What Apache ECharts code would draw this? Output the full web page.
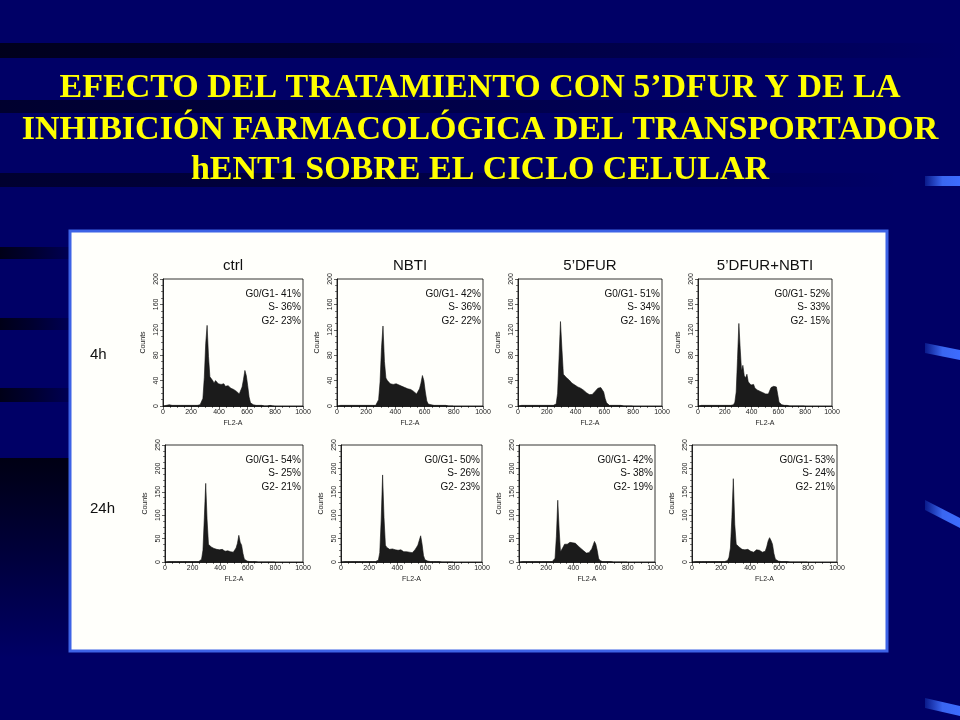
<!DOCTYPE html>
<html lang="es">

<head>
    <meta charset="UTF-8">
    <title>Ciclo celular</title>
</head>

<body style="height: 100%; margin: 0; background: #000066">
    <div id="main" style="width:960px;height: 720px"></div>
    <script type="text/javascript" src="https://cdn.jsdelivr.net/npm/echarts@6.0.0/dist/echarts.min.js"></script>
    <script type="text/javascript">

        // histogram counts, 10-channel bins starting at FL2-A = 0
        var ctrl4h = [0, 1, 1, 1, 2, 1, 1, 1, 1, 1,
            1, 1, 1, 1, 1, 1, 1, 1, 1, 1,
            1, 1, 1, 1, 1, 1, 2, 4, 12, 45,
            98, 127, 78, 46, 45, 40, 36, 40, 37, 35,
            38, 34, 32, 35, 31, 30, 32, 29, 28, 27,
            26, 25, 23, 21, 19, 22, 30, 42, 56, 48,
            32, 14, 5, 3, 2, 2, 1, 1, 1, 1,
            1, 1, 0, 1, 0, 0, 1, 0, 0, 0];
        var nbti4h = [0, 1, 1, 1, 1, 1, 1, 1, 1, 1,
            1, 1, 1, 1, 1, 1, 1, 1, 1, 1,
            1, 1, 1, 1, 1, 1, 1, 3, 10, 38,
            92, 126, 70, 44, 40, 37, 35, 38, 34, 33,
            35, 32, 33, 36, 31, 30, 29, 28, 27, 26,
            26, 24, 23, 21, 19, 22, 27, 36, 48, 40,
            22, 8, 3, 2, 2, 2, 1, 1, 1, 1,
            1, 1, 1, 0, 1, 0, 0, 0, 0, 0];
        var dfur4h = [0, 1, 1, 1, 1, 1, 1, 1, 1, 1,
            1, 1, 1, 1, 1, 1, 1, 1, 1, 1,
            1, 1, 1, 1, 1, 1, 3, 20, 75, 133,
            90, 50, 47, 45, 44, 41, 39, 36, 34, 33,
            31, 30, 31, 28, 27, 25, 23, 21, 19, 18,
            17, 18, 20, 23, 26, 28, 30, 29, 27, 22,
            12, 5, 2, 1, 1, 1, 1, 1, 1, 1,
            0, 1, 0, 0, 0, 0, 0, 0, 0, 0];
        var dfurNbti4h = [0, 1, 1, 1, 1, 1, 1, 1, 1, 1,
            1, 1, 1, 1, 1, 1, 1, 1, 1, 1,
            1, 1, 1, 1, 1, 1, 2, 6, 22, 75,
            130, 90, 55, 64, 48, 44, 50, 38, 36, 33,
            30, 34, 28, 27, 25, 26, 23, 22, 21, 20,
            19, 18, 19, 22, 29, 32, 31, 33, 30, 18,
            6, 3, 2, 2, 1, 1, 1, 1, 0, 0,
            0, 0, 0, 0, 0, 0, 0, 0, 0, 0];
        var ctrl24h = [0, 0, 1, 1, 1, 1, 1, 1, 1, 1,
            1, 1, 1, 1, 1, 1, 1, 1, 1, 1,
            1, 1, 1, 1, 1, 2, 6, 25, 95, 168,
            90, 38, 35, 32, 30, 29, 28, 27, 28, 26,
            25, 27, 24, 23, 22, 24, 21, 22, 20, 21,
            24, 30, 40, 57, 42, 36, 18, 6, 3, 2,
            2, 1, 1, 1, 1, 1, 1, 0, 1, 0,
            0, 0, 0, 0, 0, 0, 0, 0, 0, 0];
        var nbti24h = [0, 1, 1, 1, 1, 1, 1, 1, 1, 1,
            1, 1, 1, 1, 1, 1, 1, 1, 1, 1,
            1, 1, 1, 1, 1, 1, 4, 20, 90, 186,
            95, 36, 31, 29, 27, 26, 28, 25, 26, 24,
            25, 23, 26, 24, 22, 21, 22, 20, 21, 19,
            20, 22, 26, 31, 36, 46, 56, 38, 14, 5,
            3, 2, 2, 1, 1, 1, 1, 1, 0, 1,
            0, 0, 0, 0, 0, 0, 0, 0, 0, 0];
        var dfur24h = [0, 1, 1, 1, 1, 1, 1, 1, 1, 1,
            1, 1, 1, 1, 1, 1, 1, 1, 1, 1,
            1, 1, 1, 1, 1, 2, 8, 55, 132, 70,
            22, 25, 32, 38, 40, 38, 41, 42, 40, 41,
            39, 40, 37, 34, 31, 29, 27, 24, 21, 19,
            18, 20, 24, 28, 36, 44, 38, 25, 8, 3,
            2, 1, 1, 1, 1, 1, 0, 1, 0, 0,
            0, 0, 0, 0, 0, 0, 0, 0, 0, 0];
        var dfurNbti24h = [0, 0, 1, 1, 1, 1, 1, 1, 1, 1,
            1, 1, 1, 1, 1, 1, 1, 1, 1, 1,
            1, 1, 1, 1, 3, 10, 30, 95, 178, 80,
            38, 34, 32, 30, 27, 29, 26, 25, 27, 24,
            23, 22, 21, 24, 26, 27, 25, 23, 21, 20,
            23, 32, 45, 52, 46, 38, 18, 6, 3, 2,
            2, 1, 1, 1, 1, 1, 1, 0, 1, 0,
            0, 0, 0, 0, 0, 0, 0, 0, 0, 0];

        var histograms = [ctrl4h, nbti4h, dfur4h, dfurNbti4h, ctrl24h, nbti24h, dfur24h, dfurNbti24h];
        var g1Pct = [41, 42, 51, 52, 54, 50, 42, 53];
        var sPct = [36, 36, 34, 33, 25, 26, 38, 24];
        var g2Pct = [23, 22, 16, 15, 21, 23, 19, 21];

        var columns = ['ctrl', 'NBTI', '5\u2019DFUR', '5\u2019DFUR+NBTI'];
        var rows = ['4h', '24h'];
        var yMax = [200, 250];
        var yStep = [40, 50];
        var titleLines = [
            'EFECTO DEL TRATAMIENTO CON 5\u2019DFUR Y DE LA',
            'INHIBICI\u00d3N FARMACOL\u00d3GICA DEL TRANSPORTADOR',
            'hENT1 SOBRE EL CICLO CELULAR'
        ];

        // plot boxes in pixels: [left, top, width, height]
        var boxes = [
            [163, 279, 140, 127], [337, 279, 146, 127], [518, 279, 144, 127], [698, 279, 134, 127],
            [165, 445, 138, 117], [341, 445, 141, 117], [519, 445, 136, 117], [692, 445, 145, 117]
        ];

        var chartDom = document.getElementById('main');
        var myChart = echarts.init(chartDom);
        var option;

        var sans = '"Liberation Sans", Arial, sans-serif';
        var grids = [], xAxes = [], yAxes = [], series = [];
        var graphic = [];

        function plain(v) { return String(v); }

        // slide background decoration
        function stripe(y, h, w, a) {
            graphic.push({
                type: 'rect', z: -20,
                shape: { x: 0, y: y, width: w, height: h },
                style: {
                    fill: new echarts.graphic.LinearGradient(0, 0, 1, 0, [
                        { offset: 0, color: 'rgba(0,0,10,' + a + ')' },
                        { offset: 0.35, color: 'rgba(0,0,10,' + (a * 0.7) + ')' },
                        { offset: 1, color: 'rgba(0,0,10,0)' }
                    ])
                }
            });
        }
        stripe(43, 15, 960, 0.8);
        stripe(100, 13, 900, 0.6);
        stripe(173, 14, 900, 0.6);
        stripe(247, 12, 90, 0.85);
        stripe(318, 12, 90, 0.85);
        stripe(388, 14, 90, 0.85);
        graphic.push({
            type: 'rect', z: -20,
            shape: { x: 0, y: 458, width: 72, height: 200 },
            style: {
                fill: new echarts.graphic.LinearGradient(0, 0, 0, 1, [
                    { offset: 0, color: 'rgba(0,0,15,0.95)' },
                    { offset: 1, color: 'rgba(0,0,15,0)' }
                ])
            }
        });
        [[176, 176], [343, 350], [500, 518], [698, 706]].forEach(function (s) {
            graphic.push({
                type: 'polygon', z: -15,
                shape: { points: [[925, s[0]], [960, s[1]], [960, s[1] + 10], [925, s[0] + 10]] },
                style: {
                    fill: new echarts.graphic.LinearGradient(0, 0, 1, 0, [
                        { offset: 0, color: '#0a1a8a' },
                        { offset: 0.5, color: '#3a66f0' },
                        { offset: 1, color: '#3d6cff' }
                    ])
                }
            });
        });

        titleLines.forEach(function (t, i) {
            graphic.push({
                type: 'text', z: 5, x: 480, y: [88, 130, 170][i],
                style: {
                    text: t, fill: '#ffff00',
                    font: 'bold 34px "Liberation Serif", "Times New Roman", serif',
                    textAlign: 'center', textVerticalAlign: 'middle',
                    textShadowColor: '#000', textShadowOffsetX: 2, textShadowOffsetY: 2
                }
            });
        });

        // white panel
        graphic.push({
            type: 'rect', z: -10,
            shape: { x: 70, y: 231, width: 817, height: 420 },
            style: { fill: '#fffffb', stroke: '#3d63e6', lineWidth: 3 }
        });

        rows.forEach(function (r, i) {
            graphic.push({
                type: 'text', z: 5, x: 90, y: [355, 509][i],
                style: { text: r, fill: '#111', font: '15px ' + sans, textVerticalAlign: 'middle' }
            });
        });

        histograms.forEach(function (counts, k) {
            var row = k < 4 ? 0 : 1;
            var b = boxes[k];
            grids.push({
                left: b[0], top: b[1], width: b[2], height: b[3],
                show: true, borderColor: '#000', borderWidth: 0.8, backgroundColor: 'transparent'
            });
            xAxes.push({
                type: 'value', gridIndex: k, min: 0, max: 1000, interval: 200,
                name: 'FL2-A', nameLocation: 'middle', nameGap: 14,
                nameTextStyle: { fontSize: 7, color: '#222', fontFamily: sans },
                axisLine: { lineStyle: { color: '#000', width: 0.8 } },
                axisTick: { length: 3, lineStyle: { color: '#000', width: 0.6 } },
                minorTick: { show: true, splitNumber: 4, length: 2, lineStyle: { color: '#000', width: 0.5 } },
                axisLabel: { fontSize: 7, color: '#222', margin: 3, fontFamily: sans, formatter: plain },
                splitLine: { show: false }
            });
            yAxes.push({
                type: 'value', gridIndex: k, min: 0, max: yMax[row], interval: yStep[row],
                name: 'Counts', nameLocation: 'middle', nameGap: 16, nameRotate: 90,
                nameTextStyle: { fontSize: 7, color: '#222', fontFamily: sans },
                axisLine: { show: true, lineStyle: { color: '#000', width: 0.8 } },
                axisTick: { show: true, length: 3, lineStyle: { color: '#000', width: 0.6 } },
                minorTick: { show: true, splitNumber: 4, length: 2, lineStyle: { color: '#000', width: 0.5 } },
                axisLabel: { fontSize: 7, color: '#222', margin: 3, rotate: 90, fontFamily: sans, formatter: plain },
                splitLine: { show: false }
            });
            series.push({
                type: 'line', xAxisIndex: k, yAxisIndex: k,
                data: counts.map(function (v, i) { return [i * 10 + 5, v]; }),
                showSymbol: false, smooth: false, silent: true,
                lineStyle: { color: '#111', width: 0.6 },
                areaStyle: { color: '#1b1b1b', opacity: 1 }
            });
            graphic.push({
                type: 'text', z: 5, x: b[0] + b[2] - 2, y: b[1] + 8,
                style: {
                    text: 'G0/G1- ' + g1Pct[k] + '%\nS- ' + sPct[k] + '%\nG2- ' + g2Pct[k] + '%',
                    fill: '#111', font: '10px ' + sans, lineHeight: 13.5,
                    textAlign: 'right', textVerticalAlign: 'top'
                }
            });
            if (row === 0) {
                graphic.push({
                    type: 'text', z: 5, x: b[0] + b[2] / 2, y: 266,
                    style: {
                        text: columns[k], fill: '#111', font: '15px ' + sans,
                        textAlign: 'center', textVerticalAlign: 'middle'
                    }
                });
            }
        });

        option = {
            backgroundColor: '#000066',
            animation: false,
            grid: grids,
            xAxis: xAxes,
            yAxis: yAxes,
            series: series,
            graphic: { elements: graphic }
        };

        option && myChart.setOption(option);

    </script>
</body>

</html>
